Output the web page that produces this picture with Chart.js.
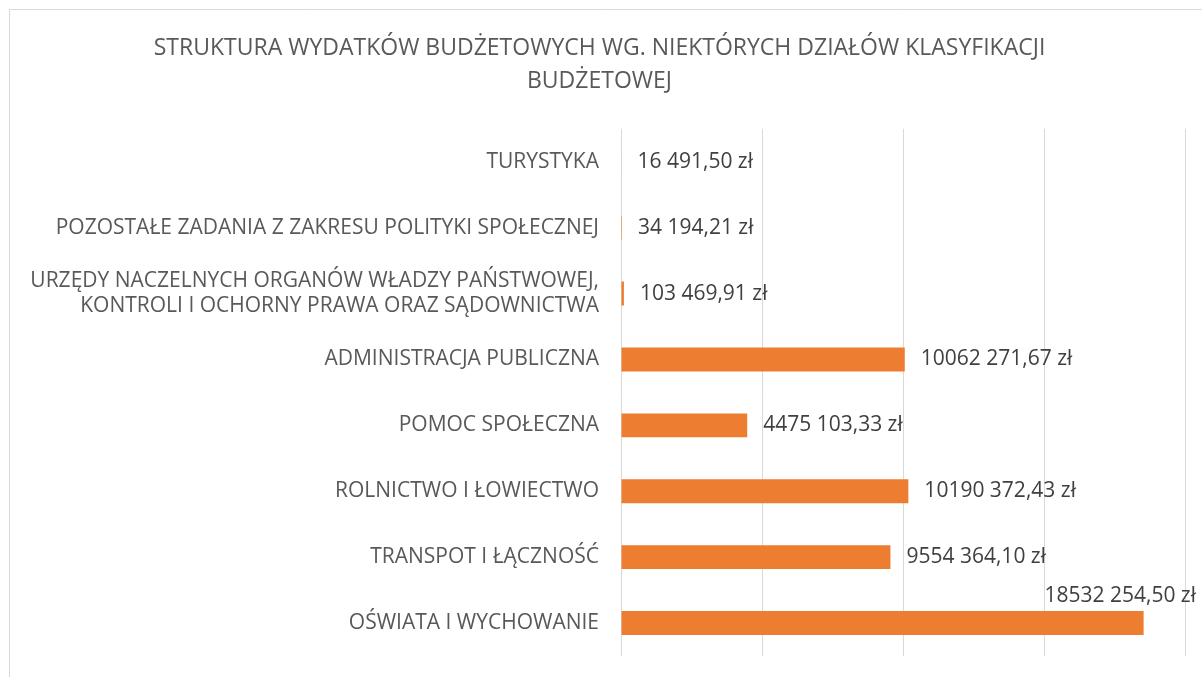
<!DOCTYPE html>
<html>
<head>
<meta charset="utf-8">
<script src="https://cdn.jsdelivr.net/npm/chart.js@4.4.0/dist/chart.umd.min.js"></script>
<style>
  html, body { margin: 0; padding: 0; background: #fff; }
  #wrap { width: 1202px; height: 677px; position: relative; }
</style>
</head>
<body>
<div id="wrap"><canvas id="myChart" width="1202" height="677"></canvas></div>
<script>
const titleLines = [
  'STRUKTURA WYDATKÓW BUDŻETOWYCH WG. NIEKTÓRYCH DZIAŁÓW KLASYFIKACJI',
  'BUDŻETOWEJ'
];

const categories = [
  'TURYSTYKA',
  'POZOSTAŁE ZADANIA Z ZAKRESU POLITYKI SPOŁECZNEJ',
  ['URZĘDY NACZELNYCH ORGANÓW WŁADZY PAŃSTWOWEJ,', 'KONTROLI I OCHORNY PRAWA ORAZ SĄDOWNICTWA'],
  'ADMINISTRACJA PUBLICZNA',
  'POMOC SPOŁECZNA',
  'ROLNICTWO I ŁOWIECTWO',
  'TRANSPOT I ŁĄCZNOŚĆ',
  'OŚWIATA I WYCHOWANIE'
];

const wydatki = [16491.50, 34194.21, 103469.91, 10062271.67, 4475103.33, 10190372.43, 9554364.10, 18532254.50];

const axisMax = 20000000;
const axisStep = 5000000;

// Excel-like format from the source: only the last thousands group is separated
function formatZl(v) {
  const parts = v.toFixed(2).split('.');
  let intPart = parts[0];
  if (intPart.length > 3) {
    intPart = intPart.slice(0, -3) + ' ' + intPart.slice(-3);
  }
  return intPart + ',' + parts[1] + ' zł';
}

const fontFamily = '"Open Sans", "Noto Sans", sans-serif';

const frame = {
  id: 'frame',
  beforeDraw(chart) {
    const ctx = chart.ctx;
    ctx.save();
    ctx.fillStyle = '#ffffff';
    ctx.fillRect(0, 0, chart.width, chart.height);
    ctx.strokeStyle = '#d9d9d9';
    ctx.lineWidth = 1;
    ctx.beginPath();
    ctx.moveTo(9.5, chart.height);
    ctx.lineTo(9.5, 9.5);
    ctx.lineTo(chart.width, 9.5);
    ctx.stroke();
    ctx.restore();
  }
};

const valueLabels = {
  id: 'valueLabels',
  afterDatasetsDraw(chart) {
    const ctx = chart.ctx;
    const meta = chart.getDatasetMeta(0);
    ctx.save();
    ctx.font = '21px ' + fontFamily;
    ctx.fillStyle = '#404040';
    ctx.textBaseline = 'middle';
    meta.data.forEach((bar, i) => {
      const text = formatZl(chart.data.datasets[0].data[i]);
      const w = ctx.measureText(text).width;
      const x = bar.x + 16;
      if (x + w > chart.width - 4) {
        ctx.textAlign = 'right';
        ctx.fillText(text, chart.width - 6, bar.y - 27);
      } else {
        ctx.textAlign = 'left';
        ctx.fillText(text, x, bar.y);
      }
    });
    ctx.restore();
  }
};

function drawChart() {
  const data = {
    labels: categories,
    datasets: [{
      label: 'Wydatki',
      backgroundColor: '#ED7D31',
      borderWidth: 0,
      data: wydatki,
      barPercentage: 0.726,
      categoryPercentage: 0.5
    }]
  };

  const config = {
    type: 'bar',
    data: data,
    options: {
      indexAxis: 'y',
      responsive: false,
      animation: false,
      layout: {
        padding: { left: 14, right: 17, top: 10, bottom: 21 }
      },
      plugins: {
        legend: { display: false },
        tooltip: { enabled: false },
        title: {
          display: true,
          text: titleLines,
          color: '#595959',
          font: { family: fontFamily, size: 23, weight: 'normal', lineHeight: 1.43 },
          padding: { top: 22, bottom: 31 }
        }
      },
      scales: {
        x: {
          min: 0,
          max: axisMax,
          ticks: { display: false, stepSize: axisStep },
          grid: { color: '#d9d9d9', lineWidth: 1, drawTicks: false },
          border: { display: false },
          afterFit(scale) { scale.height = 0; }
        },
        y: {
          ticks: {
            color: '#595959',
            font: { family: fontFamily, size: 21, lineHeight: 1.2 },
            padding: 22
          },
          grid: { display: false, drawTicks: false },
          border: { display: false },
          afterFit(scale) {
            scale.width = 607;
            scale.paddingTop = 0;
            scale.paddingBottom = 0;
          }
        }
      }
    },
    plugins: [frame, valueLabels]
  };

  new Chart(document.getElementById('myChart'), config);
}

drawChart();
</script>
</body>
</html>
